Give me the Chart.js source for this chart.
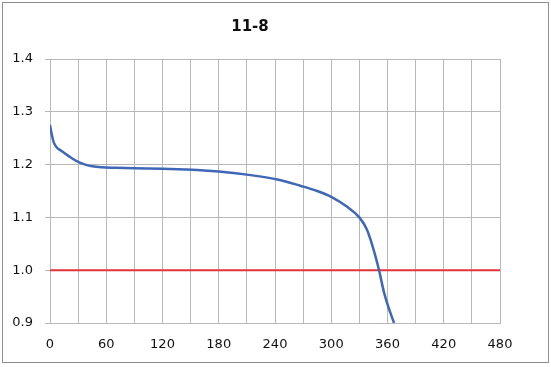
<!DOCTYPE html>
<html>
<head>
<meta charset="utf-8">
<script src="https://cdn.jsdelivr.net/npm/chart.js@4"></script>
<style>
  body { margin: 0; background: #fff; }
  #wrap { position: relative; width: 551px; height: 367px; }
  #frame { position: absolute; left: 2px; top: 2px; width: 545px; height: 359px; border: 1px solid #8f8f8f; pointer-events: none; }
</style>
</head>
<body>
<div id="wrap">
  <canvas id="chart"></canvas>
  <div id="frame"></div>
</div>
<script>
// discharge curve (minutes / volts)
const times = [0, 2, 4, 7, 12, 20, 28, 36, 45, 55, 70, 90, 120, 157, 180, 210, 245, 267, 285, 300, 317, 330, 338, 345, 351, 356, 361, 367];
const volts = [1.275, 1.256, 1.242, 1.233, 1.226, 1.216, 1.207, 1.201, 1.197, 1.195, 1.194, 1.193, 1.192, 1.19, 1.187, 1.181, 1.171, 1.16, 1.15, 1.139, 1.12, 1.10, 1.077, 1.04, 1.0, 0.96, 0.93, 0.9];
const cutoffX = [0, 480];
const cutoffY = [1.0, 1.0];

const font = { family: "'DejaVu Sans', sans-serif", size: 13 };
const gridColor = "#b8b8b8";

new Chart(document.getElementById("chart"), {
    type: "line",
    data: {
        datasets: [{
            data: times.map((t, i) => ({ x: t, y: volts[i] })),
            borderColor: "#3f67b8",
            borderWidth: 2.5,
            pointRadius: 0,
            cubicInterpolationMode: "monotone",
            fill: false
        }, {
            data: cutoffX.map((t, i) => ({ x: t, y: cutoffY[i] })),
            borderColor: "#e2333b",
            borderWidth: 2,
            pointRadius: 0,
            fill: false
        }]
    },
    options: {
        responsive: true,
        maintainAspectRatio: false,
        animation: false,
        layout: { padding: { left: 0, right: 51, top: 2, bottom: 0 } },
        plugins: {
            legend: { display: false },
            tooltip: { enabled: false },
            title: {
                display: true,
                text: "11-8",
                color: "#111",
                font: { family: font.family, size: 15, weight: "bold", lineHeight: 1.2 },
                padding: { top: 16, bottom: 23 }
            }
        },
        scales: {
            x: {
                type: "linear",
                min: 0,
                max: 480,
                afterFit: s => { s.height = 44; },
                ticks: {
                    stepSize: 30,
                    color: "#111",
                    font: font,
                    padding: 14,
                    maxRotation: 0,
                    autoSkip: false,
                    callback: v => (v % 60 === 0 ? v : "")
                },
                grid: { color: gridColor, drawTicks: false },
                border: { color: gridColor }
            },
            y: {
                min: 0.9,
                max: 1.4,
                afterFit: s => { s.width = 50; },
                ticks: {
                    stepSize: 0.1,
                    color: "#111",
                    font: font,
                    padding: 12,
                    callback: v => v.toFixed(1)
                },
                grid: { color: gridColor, tickLength: 5 },
                border: { color: gridColor }
            }
        }
    }
});
</script>
</body>
</html>
